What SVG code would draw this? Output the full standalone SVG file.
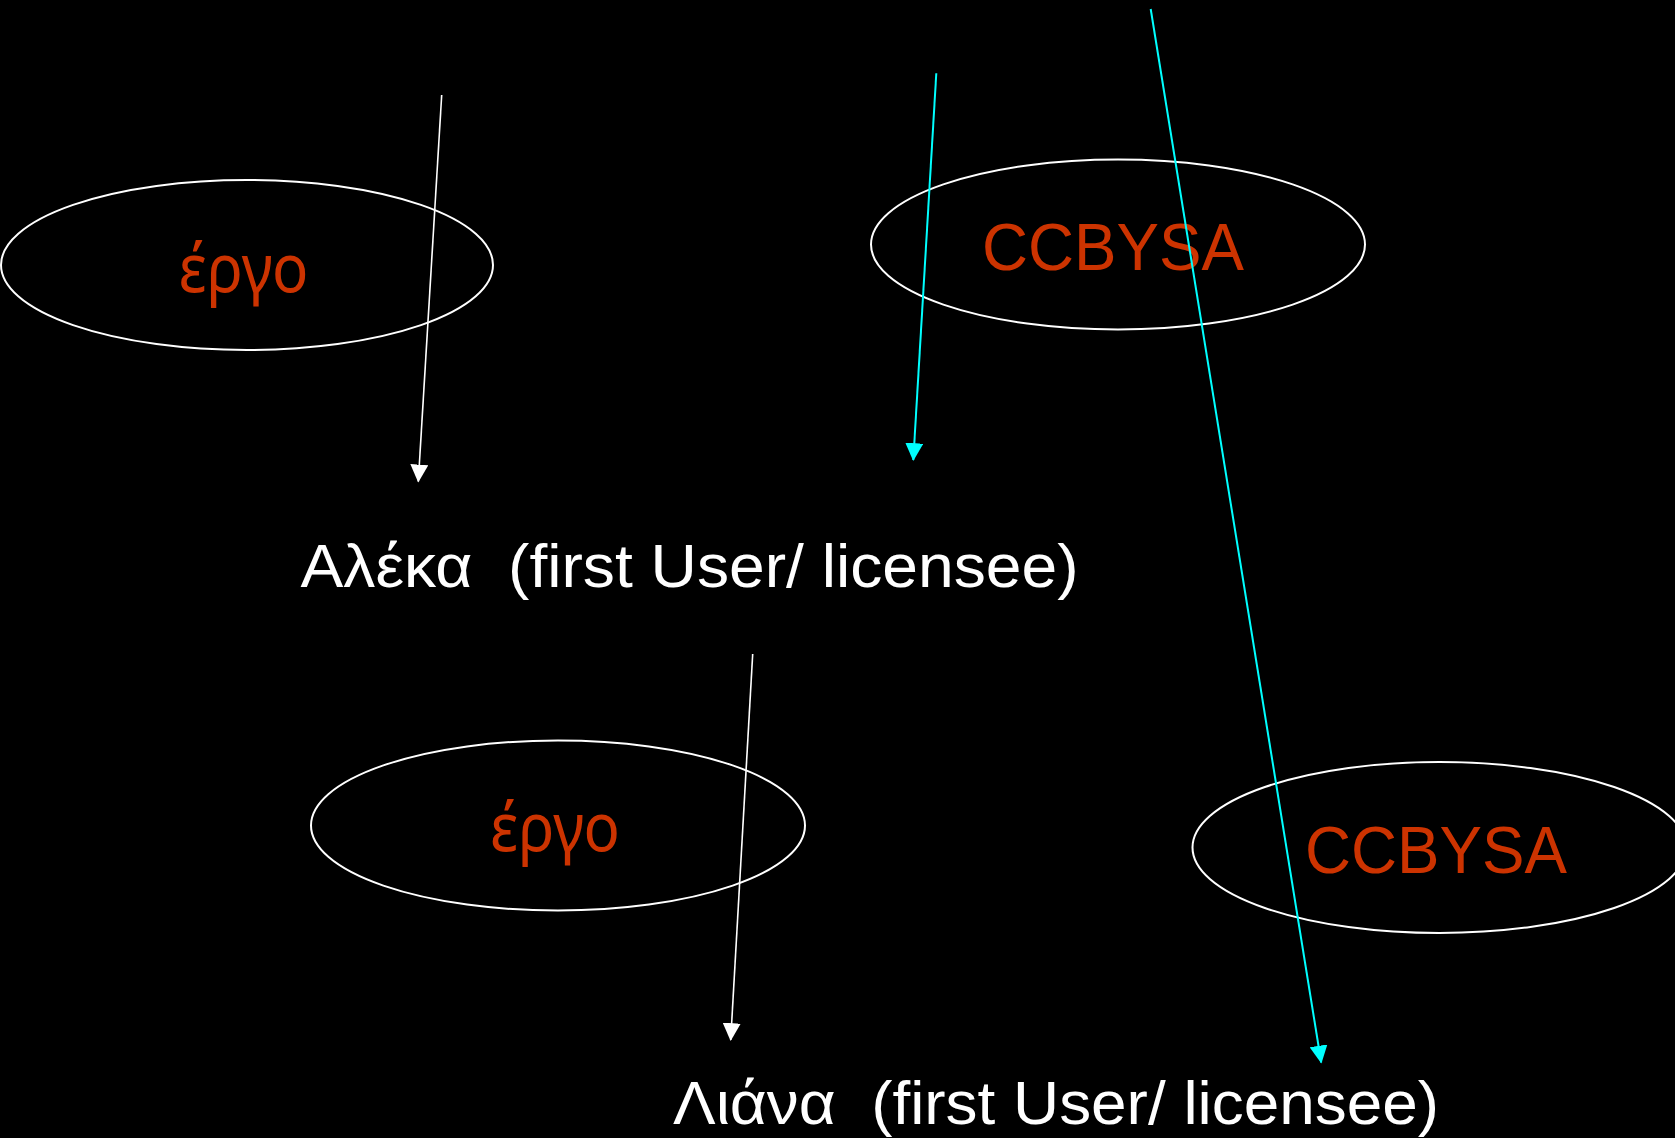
<svg xmlns="http://www.w3.org/2000/svg" width="1675" height="1138" viewBox="0 0 1675 1138">
  <defs>
    <style>
      .oval { fill: none; stroke: #ffffff; stroke-width: 2; }
      .work { fill: #cc3300; font-family: "Noto Sans", "DejaVu Sans", sans-serif; font-size: 68px; text-anchor: middle; }
      .lic { fill: #cc3300; font-family: "Liberation Sans", Arial, sans-serif; font-size: 66px; text-anchor: middle; }
      .user { fill: #ffffff; font-family: "Liberation Sans", Arial, sans-serif; font-size: 62px; text-anchor: middle; white-space: pre; }
      .wline { stroke: #ffffff; stroke-width: 1.6; fill: none; }
      .cline { stroke: #00ffff; stroke-width: 2; fill: none; }
    </style>
    <marker id="arrW" markerUnits="userSpaceOnUse" markerWidth="18" markerHeight="18" viewBox="0 0 16 16" refX="15" refY="8" orient="auto">
      <path d="M0,0 L16,8 L0,16 Z" fill="#ffffff"/>
    </marker>
    <marker id="arrC" markerUnits="userSpaceOnUse" markerWidth="18" markerHeight="18" viewBox="0 0 16 16" refX="15" refY="8" orient="auto">
      <path d="M0,0 L16,8 L0,16 Z" fill="#00ffff"/>
    </marker>
  </defs>
  <rect x="0" y="0" width="1675" height="1138" fill="#000000"/>

  <g id="work1">
    <ellipse class="oval" cx="247" cy="265" rx="246" ry="85"/>
    <text class="work" x="243.5" y="292" textLength="130" lengthAdjust="spacingAndGlyphs">έργο</text>
  </g>
  <g id="license1">
    <ellipse class="oval" cx="1118" cy="244.5" rx="247" ry="85"/>
    <text class="lic" x="1113" y="270" textLength="262" lengthAdjust="spacingAndGlyphs">CCBYSA</text>
  </g>
  <g id="aleka">
    <text class="user" x="689.5" y="587" textLength="778" lengthAdjust="spacingAndGlyphs" xml:space="preserve">Αλέκα  (first User/ licensee)</text>
  </g>
  <g id="work2">
    <ellipse class="oval" cx="558" cy="825.5" rx="247" ry="85"/>
    <text class="work" x="555" y="851" textLength="130" lengthAdjust="spacingAndGlyphs">έργο</text>
  </g>
  <g id="license2">
    <ellipse class="oval" cx="1439.5" cy="847.5" rx="247" ry="85.5"/>
    <text class="lic" x="1436" y="873" textLength="262" lengthAdjust="spacingAndGlyphs">CCBYSA</text>
  </g>
  <g id="liana">
    <text class="user" x="1056" y="1124" textLength="766" lengthAdjust="spacingAndGlyphs" xml:space="preserve">Λιάνα  (first User/ licensee)</text>
  </g>

  <g id="connectors">
    <line class="wline" x1="441.7" y1="95" x2="418.3" y2="481.5" marker-end="url(#arrW)"/>
    <line class="cline" x1="936.3" y1="73.3" x2="913.3" y2="460" marker-end="url(#arrC)"/>
    <line class="cline" x1="1150.7" y1="9" x2="1321.2" y2="1062.5" marker-end="url(#arrC)"/>
    <line class="wline" x1="752.7" y1="654" x2="730.7" y2="1040" marker-end="url(#arrW)"/>
  </g>
</svg>
